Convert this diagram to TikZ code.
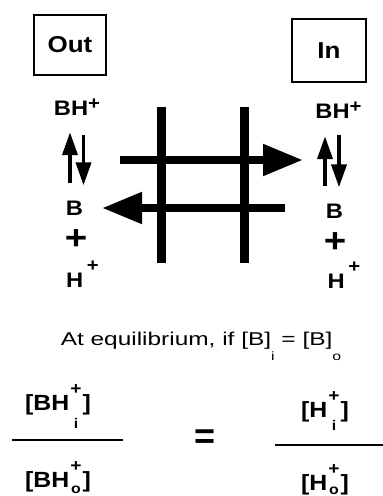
\documentclass[tikz,border=0pt]{standalone}
\usepackage{fontspec}
\setmainfont{Liberation Sans}
\newfontfamily\widefont[FakeStretch=1.32]{Liberation Sans}
\newfontfamily\boldfont[FakeStretch=1.13]{Liberation Sans}
\usetikzlibrary{arrows.meta,positioning,calc}
\newcommand{\ionpm}[3]{\makebox[0.6em][c]{\raisebox{0.7em}{\fontsize{17}{17}\selectfont\bfseries#1}}\kern-0.6em\makebox[0.6em][c]{\raisebox{#3}{\fontsize{14}{14}\selectfont\bfseries#2}}}
\newcommand{\lowsub}[1]{\raisebox{-0.85em}{\fontsize{12}{12}\selectfont#1}}
\newcommand{\supplus}[1]{\raisebox{#1}{\fontsize{18}{18}\selectfont\bfseries+}}
\tikzset{
  side/.style    = {draw, line width=1.6pt, font=\boldfont\fontsize{23}{26}\selectfont\bfseries,
                    inner sep=0pt},
  species/.style = {font=\boldfont\fontsize{21}{24}\selectfont\bfseries, inner sep=0pt, anchor=base},
  bigplus/.style = {font=\boldfont\fontsize{34}{34}\selectfont\bfseries, inner sep=0pt},
  conc/.style    = {font=\boldfont\fontsize{22}{26}\selectfont\bfseries, inner sep=0pt, anchor=base},
  membrane/.style = {line width=9pt},
  flux/.style    = {-{Triangle[length=40pt,width=30pt]}, line width=8pt},
  equil/.style   = {-{Triangle[length=23pt,width=15pt]}, line width=3.8pt},
  fracline/.style = {line width=1.8pt},
}
\begin{document}
\begin{tikzpicture}[x=1pt, y=-1pt]
  \useasboundingbox (0,0) rectangle (383,496);
  \node[side, minimum width=72pt, minimum height=60pt] (out) at (70,45) {Out};
  \node[side, minimum width=74pt, minimum height=63pt] (in) at (329,50.5) {In};

  \node[species] (lBH) at (77,115) {BH\supplus{0.25em}};
  \node[species] (lB) at (74.5,215) {B};
  \node[bigplus] (lplus) at (76,240) {+};
  \node[species] (lH) at (82.5,287) {H\,\supplus{0.75em}};
  \node[species] (rBH) at (338.5,118) {BH\supplus{0.25em}};
  \node[species] (rB) at (334.5,218) {B};
  \node[bigplus] (rplus) at (335,243) {+};
  \node[species] (rH) at (344,288) {H\,\supplus{0.75em}};

  \draw[equil, shorten <=17pt, shorten >=17pt] ([xshift=-4.5pt]lB.north) -- ([xshift=-4.5pt]lB.north |- lBH.south);
  \draw[equil, shorten <=20pt, shorten >=15pt] ([xshift=9pt]lB.north |- lBH.south) -- ([xshift=9pt]lB.north);
  \draw[equil, shorten <=17pt, shorten >=18pt] ([xshift=-9.5pt]rB.north) -- ([xshift=-9.5pt]rB.north |- rBH.south);
  \draw[equil, shorten <=17pt, shorten >=16pt] ([xshift=4.5pt]rB.north |- rBH.south) -- ([xshift=4.5pt]rB.north);

  \coordinate (memLtop) at (161,107);
  \coordinate (memLbot) at (161,263);
  \coordinate (memRtop) at (244,107);
  \coordinate (memRbot) at (244,263);
  \draw[membrane] (memLtop) -- (memLbot);
  \draw[membrane] (memRtop) -- (memRbot);

  \coordinate (inTail) at (120,160);
  \coordinate (inTip) at (303,160);
  \coordinate (outTail) at (285,208);
  \coordinate (outTip) at (102,208);
  \draw[flux] (inTail) -- (inTip);
  \draw[flux] (outTail) -- (outTip);

  \node[font=\widefont\fontsize{18.5}{22}\selectfont, inner sep=0pt, anchor=base] (cond) at (201,345)
    {At equilibrium, if [B]\lowsub{i} = [B]\lowsub{o}};

  \node[conc] (bhi) at (58,410) {[BH\ionpm{+}{i}{-0.85em}]};
  \node[conc] (bho) at (58,487) {[BH\ionpm{+}{o}{-0.3em}]};
  \node[conc] (hi) at (325,417) {[H\ionpm{+}{i}{-0.6em}]};
  \node[conc] (ho) at (325,490) {[H\ionpm{+}{o}{-0.2em}]};
  \coordinate (fracLa) at (12,440);
  \coordinate (fracLb) at (123,440);
  \coordinate (fracRa) at (275,445);
  \coordinate (fracRb) at (383,445);
  \draw[fracline] (fracLa) -- (fracLb);
  \draw[fracline] (fracRa) -- (fracRb);
  \node[font=\fontsize{36}{36}\selectfont\bfseries, inner sep=0pt] (eq) at (205,439) {=};
\end{tikzpicture}
\end{document}
